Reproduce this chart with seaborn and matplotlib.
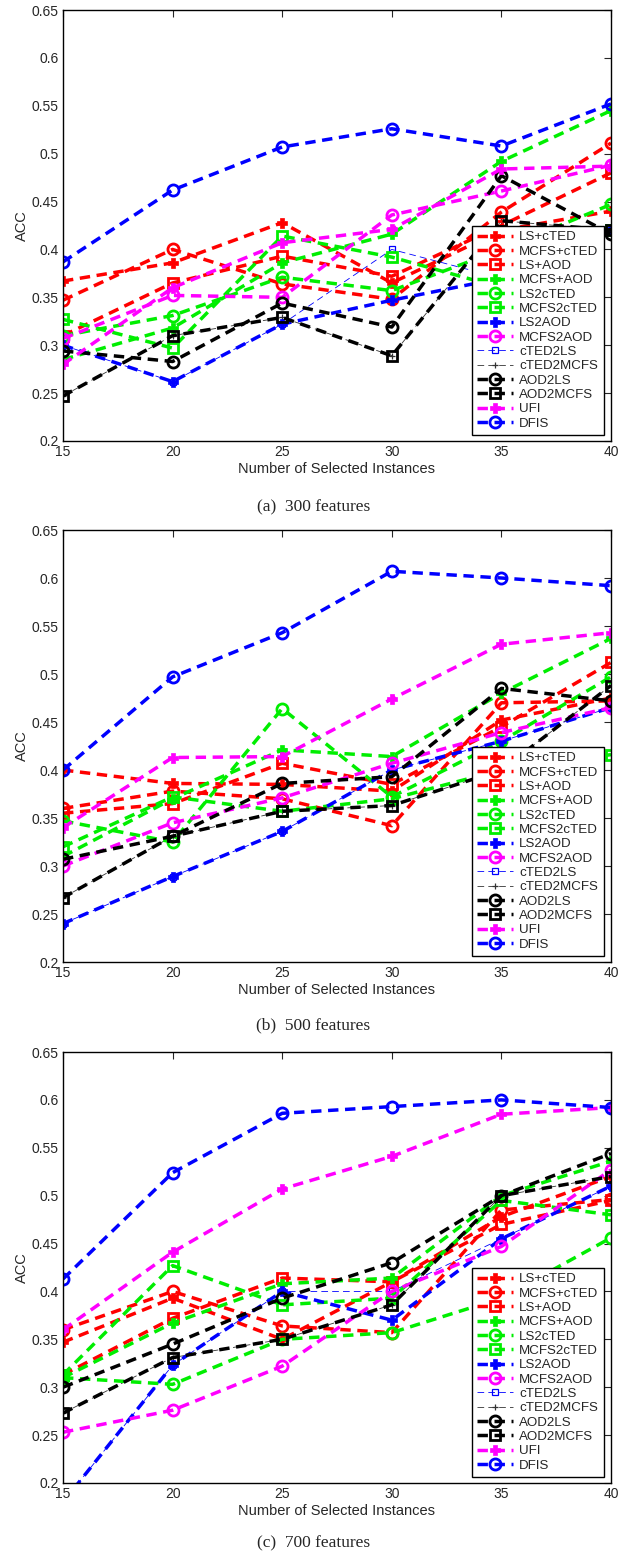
import numpy as np
import pandas as pd
import matplotlib
matplotlib.use("Agg")
import matplotlib.pyplot as plt
import seaborn as sns

sns.set_style("white")
plt.rcParams['font.family'] = ['Liberation Sans', 'DejaVu Sans']

x_vals = [15, 20, 25, 30, 35, 40]
series_names = ["LS+cTED", "MCFS+cTED", "LS+AOD", "MCFS+AOD", "LS2cTED", "MCFS2cTED",
                "LS2AOD", "MCFS2AOD", "cTED2LS", "cTED2MCFS", "AOD2LS", "AOD2MCFS", "UFI", "DFIS"]
captions = ["(a)  300 features", "(b)  500 features", "(c)  700 features"]
x_ticks = [15, 20, 25, 30, 35, 40]
y_ticks = [0.2, 0.25, 0.3, 0.35, 0.4, 0.45, 0.5, 0.55, 0.6, 0.65]
y_tick_labels = ["0.2", "0.25", "0.3", "0.35", "0.4", "0.45", "0.5", "0.55", "0.6", "0.65"]

# ---- (a) 300 features ----
a_LS_cTED    = [0.367, 0.386, 0.428, 0.365, 0.420, 0.440]
a_MCFS_cTED  = [0.347, 0.400, 0.364, 0.348, 0.439, 0.511]
a_LS_AOD     = [0.310, 0.365, 0.393, 0.372, 0.425, 0.480]
a_MCFS_AOD   = [0.285, 0.318, 0.386, 0.416, 0.492, 0.545]
a_LS2cTED    = [0.310, 0.331, 0.371, 0.357, 0.400, 0.447]
a_MCFS2cTED  = [0.327, 0.297, 0.414, 0.392, 0.360, 0.420]
a_LS2AOD     = [0.300, 0.262, 0.322, 0.347, 0.370, 0.420]
a_MCFS2AOD   = [0.307, 0.352, 0.350, 0.436, 0.461, 0.488]
a_cTED2LS    = [0.300, 0.262, 0.322, 0.400, 0.370, 0.420]
a_cTED2MCFS  = [0.247, 0.310, 0.329, 0.289, 0.430, 0.420]
a_AOD2LS     = [0.294, 0.283, 0.344, 0.319, 0.477, 0.416]
a_AOD2MCFS   = [0.247, 0.310, 0.329, 0.289, 0.430, 0.420]
a_UFI        = [0.280, 0.360, 0.407, 0.421, 0.484, 0.487]
a_DFIS       = [0.387, 0.462, 0.507, 0.526, 0.508, 0.552]

# ---- (b) 500 features ----
b_LS_cTED    = [0.400, 0.386, 0.385, 0.378, 0.452, 0.475]
b_MCFS_cTED  = [0.360, 0.378, 0.370, 0.342, 0.470, 0.472]
b_LS_AOD     = [0.355, 0.365, 0.407, 0.385, 0.445, 0.512]
b_MCFS_AOD   = [0.310, 0.370, 0.421, 0.414, 0.480, 0.537]
b_LS2cTED    = [0.347, 0.325, 0.464, 0.372, 0.430, 0.497]
b_MCFS2cTED  = [0.320, 0.372, 0.357, 0.370, 0.400, 0.416]
b_LS2AOD     = [0.240, 0.289, 0.336, 0.400, 0.430, 0.465]
b_MCFS2AOD   = [0.300, 0.345, 0.371, 0.407, 0.439, 0.465]
b_cTED2LS    = [0.240, 0.289, 0.336, 0.400, 0.430, 0.465]
b_cTED2MCFS  = [0.267, 0.331, 0.357, 0.363, 0.400, 0.488]
b_AOD2LS     = [0.307, 0.331, 0.386, 0.393, 0.485, 0.472]
b_AOD2MCFS   = [0.267, 0.331, 0.357, 0.363, 0.400, 0.488]
b_UFI        = [0.340, 0.413, 0.414, 0.474, 0.531, 0.543]
b_DFIS       = [0.400, 0.497, 0.543, 0.607, 0.600, 0.592]

# ---- (c) 700 features ----
c_LS_cTED    = [0.347, 0.393, 0.350, 0.410, 0.478, 0.520]
c_MCFS_cTED  = [0.360, 0.400, 0.364, 0.357, 0.485, 0.496]
c_LS_AOD     = [0.313, 0.372, 0.414, 0.410, 0.470, 0.495]
c_MCFS_AOD   = [0.310, 0.367, 0.408, 0.414, 0.500, 0.536]
c_LS2cTED    = [0.310, 0.303, 0.350, 0.357, 0.393, 0.456]
c_MCFS2cTED  = [0.313, 0.427, 0.386, 0.393, 0.495, 0.480]
c_LS2AOD     = [0.180, 0.323, 0.400, 0.370, 0.455, 0.510]
c_MCFS2AOD   = [0.253, 0.276, 0.322, 0.400, 0.447, 0.527]
c_cTED2LS    = [0.180, 0.323, 0.400, 0.400, 0.455, 0.510]
c_cTED2MCFS  = [0.273, 0.331, 0.350, 0.386, 0.500, 0.520]
c_AOD2LS     = [0.300, 0.345, 0.393, 0.430, 0.500, 0.544]
c_AOD2MCFS   = [0.273, 0.331, 0.350, 0.386, 0.500, 0.520]
c_UFI        = [0.360, 0.441, 0.507, 0.541, 0.585, 0.592]
c_DFIS       = [0.413, 0.524, 0.586, 0.593, 0.600, 0.592]

panels = [
    [a_LS_cTED, a_MCFS_cTED, a_LS_AOD, a_MCFS_AOD, a_LS2cTED, a_MCFS2cTED, a_LS2AOD,
     a_MCFS2AOD, a_cTED2LS, a_cTED2MCFS, a_AOD2LS, a_AOD2MCFS, a_UFI, a_DFIS],
    [b_LS_cTED, b_MCFS_cTED, b_LS_AOD, b_MCFS_AOD, b_LS2cTED, b_MCFS2cTED, b_LS2AOD,
     b_MCFS2AOD, b_cTED2LS, b_cTED2MCFS, b_AOD2LS, b_AOD2MCFS, b_UFI, b_DFIS],
    [c_LS_cTED, c_MCFS_cTED, c_LS_AOD, c_MCFS_AOD, c_LS2cTED, c_MCFS2cTED, c_LS2AOD,
     c_MCFS2AOD, c_cTED2LS, c_cTED2MCFS, c_AOD2LS, c_AOD2MCFS, c_UFI, c_DFIS],
]

RED, GREEN, BLUE, MAG, BLK = "#ff0000", "#00ee00", "#0000ff", "#ff00ff", "#000000"
styles = {
    "LS+cTED":   dict(color=RED, marker="P", thin=False),
    "MCFS+cTED": dict(color=RED, marker="o", thin=False),
    "LS+AOD":    dict(color=RED, marker="s", thin=False),
    "MCFS+AOD":  dict(color=GREEN, marker="P", thin=False),
    "LS2cTED":   dict(color=GREEN, marker="o", thin=False),
    "MCFS2cTED": dict(color=GREEN, marker="s", thin=False),
    "LS2AOD":    dict(color=BLUE, marker="P", thin=False),
    "MCFS2AOD":  dict(color=MAG, marker="o", thin=False),
    "cTED2LS":   dict(color=BLUE, marker="s", thin=True),
    "cTED2MCFS": dict(color="#333333", marker="+", thin=True),
    "AOD2LS":    dict(color=BLK, marker="o", thin=False),
    "AOD2MCFS":  dict(color=BLK, marker="s", thin=False),
    "UFI":       dict(color=MAG, marker="P", thin=False),
    "DFIS":      dict(color=BLUE, marker="o", thin=False),
}

fig = plt.figure(figsize=(6.27, 15.58), dpi=100)
axes_rects = [
    [63/627, 1-441/1558, 548/627, 431/1558],
    [63/627, 1-962/1558, 548/627, 432/1558],
    [63/627, 1-1483/1558, 548/627, 431/1558],
]
caption_y = [1-507/1558, 1-1025/1558, 1-1543/1558]
dash = (0, (3.0, 1.9))

for p, (rect, data) in enumerate(zip(axes_rects, panels)):
    ax = fig.add_axes(rect)
    handles = []
    for name, vals in zip(series_names, data):
        st = styles[name]
        df = pd.DataFrame({"x": x_vals, "y": vals})
        if st["thin"]:
            kw = dict(lw=0.6, linestyle=(0, (8, 5)), ms=5, mew=0.9,
                      mfc="none", mec=st["color"], zorder=1)
        else:
            m = st["marker"]
            if m == "P":
                kw = dict(lw=2.5, linestyle=dash, ms=7, mew=0.5,
                          mfc=st["color"], mec=st["color"], zorder=2)
            elif m == "s":
                kw = dict(lw=2.5, linestyle=dash, ms=6.5, mew=2.0,
                          mfc="none", mec=st["color"], zorder=2)
            else:
                kw = dict(lw=2.5, linestyle=dash, ms=8, mew=2.0,
                          mfc="none", mec=st["color"], zorder=2)
        sns.lineplot(data=df, x="x", y="y", ax=ax, color=st["color"], marker=st["marker"],
                     errorbar=None, legend=False, **kw)
        line = ax.lines[-1]
        line.set_label(name)
        handles.append(line)

    ax.set_xlim(15, 40)
    ax.set_ylim(0.2, 0.65)
    ax.set_xticks(x_ticks)
    ax.set_xticklabels([str(t) for t in x_ticks], fontsize=10)
    ax.set_yticks(y_ticks)
    ax.set_yticklabels(y_tick_labels, fontsize=10)
    ax.tick_params(direction="in", top=True, right=True, length=5, width=0.8, pad=3)
    for sp in ax.spines.values():
        sp.set_visible(True)
        sp.set_color("black")
        sp.set_linewidth(1.0)
    ax.set_xlabel("Number of Selected Instances", fontsize=10.5, labelpad=2)
    ax.set_ylabel("ACC", fontsize=10.5, labelpad=2)

    leg = ax.legend(handles=handles, labels=series_names, loc="lower right",
                    bbox_to_anchor=(0.987, 0.014), fontsize=9.6, frameon=True,
                    fancybox=False, framealpha=1, edgecolor="black", handlelength=2.7,
                    labelspacing=0.15, borderpad=0.4, handletextpad=0.45, borderaxespad=0)
    leg.get_frame().set_linewidth(1.0)
    leg.set_zorder(10)

    fig.text(0.5, caption_y[p], captions[p], ha="center", va="center",
             fontsize=12.5, family=["Liberation Serif", "DejaVu Serif"])

fig.savefig("out.png", dpi=100, facecolor="white")
